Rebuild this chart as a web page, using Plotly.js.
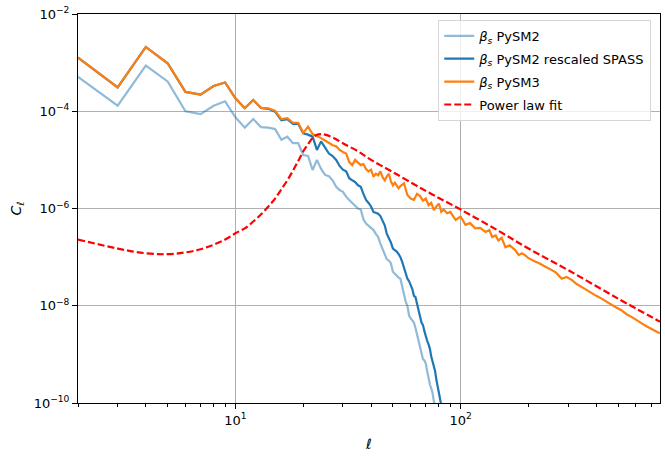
<!DOCTYPE html>
<html>
<head>
<meta charset="utf-8">
<script src="https://cdn.plot.ly/plotly-3.0.1.min.js"></script>
<style>
  html, body { margin: 0; padding: 0; background: #fff; }
  #chart { width: 665px; height: 458px; }
</style>
</head>
<body>
<div id="chart"></div>
<script>
// angular power spectra of the synchrotron spectral index

var ellPysm2 = [2,3,4,5,6,7,8,9,10,11,12,13,14,15,16,17,18,19,20,21,22,23,24,25,26,27,28,29,30,
  31,32,33,34,35,36,37,38,39,40,41,42,43,44,45,46,47,48,49,50,51,52,53,54,55,56,57,58,59,60,
  61,62,63,64,65,66,67,68,69,70,71,72,73,74,75,76,77,78];
var clPysm2 = [5.1e-4,1.3e-4,8.7e-4,4.1e-4,1.0e-4,8.7e-5,1.3e-4,1.6e-4,7.5e-5,4.6e-5,6.9e-5,4.7e-5,4.6e-5,4.3e-5,
  2.6e-5,3.0e-5,2.2e-5,2.2e-5,1.26e-5,1.2e-5,6.2e-6,1.0e-5,6.5e-6,4.9e-6,4.6e-6,3.8e-6,2.8e-6,2.4e-6,2.2e-6,
  1.75e-6,1.5e-6,1.3e-6,1.1e-6,1.0e-6,9.5e-7,6.0e-7,4.9e-7,4.4e-7,4.0e-7,3.6e-7,3.0e-7,2.6e-7,1.9e-7,1.5e-7,
  1.1e-7,9.0e-8,8.5e-8,7.5e-8,5.0e-8,4.5e-8,4.2e-8,3.8e-8,3.6e-8,2.4e-8,1.6e-8,1.2e-8,1.0e-8,6.3e-9,5.5e-9,
  5.0e-9,4.5e-9,3.5e-9,2.6e-9,2.0e-9,1.4e-9,1.0e-9,8.0e-10,7.5e-10,6.5e-10,4.5e-10,3.0e-10,2.4e-10,2.0e-10,
  1.6e-10,1.1e-10,8.0e-11,6.0e-11];

var ellSpass = [2,3,4,5,6,7,8,9,10,11,12,13,14,15,16,17,18,19,20,21,22,23,24,25,26,27,28,29,30,
  31,32,33,34,35,36,37,38,39,40,41,42,43,44,45,46,47,48,49,50,51,52,53,54,55,56,57,58,59,60,
  61,62,63,64,65,66,67,68,69,70,71,72,73,74,75,76,77,78,79,80,81,82];
var clSpass = [1.26e-3,3.1e-4,2.1e-3,9.7e-4,2.5e-4,2.2e-4,3.3e-4,3.9e-4,1.85e-4,1.15e-4,1.7e-4,1.17e-4,1.12e-4,9.8e-5,
  6.5e-5,6.9e-5,5.5e-5,5.5e-5,3.5e-5,3.3e-5,3.0e-5,1.6e-5,2.4e-5,1.8e-5,1.35e-5,1.2e-5,1.0e-5,7.5e-6,6.3e-6,5.8e-6,
  4.2e-6,3.8e-6,3.5e-6,3.0e-6,2.8e-6,2.0e-6,1.5e-6,1.3e-6,1.1e-6,8.5e-7,8.0e-7,7.8e-7,7.0e-7,5.8e-7,4.5e-7,
  3.0e-7,2.5e-7,2.0e-7,1.5e-7,1.4e-7,1.3e-7,1.15e-7,1.0e-7,8.0e-8,6.0e-8,4.8e-8,3.6e-8,3.2e-8,2.6e-8,2.2e-8,
  1.6e-8,1.5e-8,1.1e-8,8.5e-9,6.0e-9,4.5e-9,4.0e-9,3.0e-9,2.2e-9,1.9e-9,1.6e-9,1.3e-9,9.0e-10,7.0e-10,5.5e-10,
  4.5e-10,3.0e-10,2.2e-10,1.7e-10,1.2e-10,9.0e-11,6.0e-11];

var ellPysm3 = [2,3,4,5,6,7,8,9,10,11,12,13,14,15,16,17,18,19,20,21,22,23,24,25,26,27,28,29,30,
  31,32,33,34,35,36,37,38,39,40,41,42,43,44,45,46,47,48,49,50,51,52,53,54,56,58,60,62,64,66,68,
  70,72,74,76,78,80,82,84,87,90,92,95,98,100,105,110,116,122,129,134,138,143,147,152,158,165,175,
  181,187,193,200,207,215,222,229,240,254,265,281,295,311,327,344,362,381,400,422,445,467,490,517,
  545,573,600,634,668,703,735,767];
var clPysm3 = [1.26e-3,3.1e-4,2.1e-3,9.7e-4,2.5e-4,2.2e-4,3.3e-4,3.9e-4,1.85e-4,1.15e-4,1.7e-4,1.17e-4,1.15e-4,1.02e-4,
  6.9e-5,7.2e-5,5.8e-5,5.8e-5,3.6e-5,4.8e-5,3.4e-5,3.1e-5,2.8e-5,2.5e-5,2.2e-5,2.0e-5,1.9e-5,1.6e-5,1.45e-5,
  1.35e-5,9.0e-6,7.8e-6,1.0e-5,9.0e-6,7.8e-6,8.2e-6,6.5e-6,5.8e-6,6.3e-6,4.5e-6,5.2e-6,4.8e-6,5.8e-6,4.4e-6,
  3.8e-6,4.6e-6,5.2e-6,3.6e-6,3.0e-6,3.4e-6,3.0e-6,2.6e-6,2.9e-6,3.3e-6,1.9e-6,1.6e-6,1.5e-6,2.0e-6,1.8e-6,1.45e-6,
  1.6e-6,1.17e-6,1.3e-6,9.3e-7,1.1e-6,1.26e-6,8.5e-7,9.5e-7,8.0e-7,8.5e-7,7.2e-7,5.8e-7,6.5e-7,6.8e-7,4.6e-7,
  5.0e-7,3.9e-7,4.0e-7,3.3e-7,3.6e-7,2.6e-7,2.8e-7,2.2e-7,2.5e-7,1.6e-7,1.75e-7,1.38e-7,1.1e-7,1.2e-7,1.1e-7,
  9.5e-8,8.7e-8,8.0e-8,7.6e-8,6.9e-8,6.2e-8,5.4e-8,4.8e-8,3.6e-8,3.9e-8,3.4e-8,2.8e-8,2.45e-8,2.1e-8,1.8e-8,
  1.6e-8,1.4e-8,1.2e-8,1.02e-8,9.2e-9,8.1e-9,6.7e-9,5.9e-9,5.1e-9,4.4e-9,3.8e-9,3.4e-9,3.0e-9,2.7e-9];

var ellFit = [2,3,4,5,6,7,8,9,10,11,12,13,14,15,16,17,18,19,20,21,22,23,24,25,27,30,35,40,50,70,
  100,150,200,300,500,767];
var clFit = [2.3e-7,1.5e-7,1.2e-7,1.15e-7,1.25e-7,1.45e-7,1.8e-7,2.3e-7,3.1e-7,3.9e-7,5.4e-7,7.6e-7,1.1e-6,1.6e-6,
  2.5e-6,3.8e-6,6.0e-6,9.5e-6,1.5e-5,2.1e-5,2.8e-5,3.3e-5,3.4e-5,3.3e-5,2.9e-5,2.2e-5,1.5e-5,1.0e-5,5.6e-6,2.3e-6,
  9.5e-7,3.3e-7,1.5e-7,5.4e-8,1.4e-8,4.7e-9];

var seriesNames = ['<i>β<sub>s</sub></i> PySM2', '<i>β<sub>s</sub></i> PySM2 rescaled SPASS',
  '<i>β<sub>s</sub></i> PySM3', 'Power law fit'];

var xTickVals = [10, 100];
var xTickText = ['10<sup>1</sup>', '10<sup>2</sup>'];
var xMinorVals = [2,3,4,5,6,7,8,9,20,30,40,50,60,70,80,90,200,300,400,500,600,700];
var yTickVals = [1e-10, 1e-8, 1e-6, 1e-4, 1e-2];
var yTickText = ['10<sup>−10</sup>', '10<sup>−8</sup>', '10<sup>−6</sup>', '10<sup>−4</sup>', '10<sup>−2</sup>'];

var data = [
  {x: ellPysm2, y: clPysm2, name: seriesNames[0], legendgroup: 'a', mode: 'lines', type: 'scatter',
   line: {color: 'rgba(31,119,180,0.5)', width: 2.2}},
  {x: ellSpass, y: clSpass, name: seriesNames[1], legendgroup: 'b', mode: 'lines', type: 'scatter',
   line: {color: '#1f77b4', width: 2.2}},
  {x: ellPysm3, y: clPysm3, name: seriesNames[2], legendgroup: 'c', mode: 'lines', type: 'scatter',
   line: {color: '#ff7f0e', width: 2.2}},
  {x: ellFit, y: clFit, name: seriesNames[3], legendgroup: 'd', mode: 'lines', type: 'scatter',
   line: {color: '#ff0000', width: 2.2, dash: '7px,3px', shape: 'spline'}}
];

var layout = {
  width: 665,
  height: 458,
  margin: {l: 78, r: 5, t: 14, b: 55},
  paper_bgcolor: '#ffffff',
  plot_bgcolor: '#ffffff',
  font: {family: 'DejaVu Sans', size: 13, color: '#000000'},
  showlegend: true,
  legend: {
    x: 0.619, y: 0.985, xanchor: 'left', yanchor: 'top',
    bgcolor: 'rgba(255,255,255,0.8)', bordercolor: '#d6d6d6', borderwidth: 1,
    tracegroupgap: 3, itemwidth: 30,
    font: {family: 'DejaVu Sans', size: 13}
  },
  xaxis: {
    type: 'log',
    range: [0.30103, 2.8848],
    tickmode: 'array', tickvals: xTickVals, ticktext: xTickText,
    ticks: 'outside', ticklen: 5, tickcolor: '#000', tickwidth: 1,
    minor: {tickmode: 'array', tickvals: xMinorVals, ticks: 'outside', ticklen: 3, tickcolor: '#000', showgrid: false},
    showline: true, mirror: true, linecolor: '#000', linewidth: 1,
    showgrid: true, gridcolor: '#b0b0b0', gridwidth: 1,
    zeroline: false,
    title: {text: '<i>ℓ</i>', standoff: 12, font: {size: 14}}
  },
  yaxis: {
    type: 'log',
    range: [-10, -2],
    tickmode: 'array', tickvals: yTickVals, ticktext: yTickText,
    ticks: 'outside', ticklen: 5, tickcolor: '#000', tickwidth: 1,
    showline: true, mirror: true, linecolor: '#000', linewidth: 1,
    showgrid: true, gridcolor: '#b0b0b0', gridwidth: 1,
    zeroline: false,
    title: {text: '<i>C<sub>ℓ</sub></i>', standoff: 8, font: {size: 14}}
  }
};

Plotly.newPlot('chart', data, layout, {displayModeBar: false, staticPlot: true});
</script>
</body>
</html>
